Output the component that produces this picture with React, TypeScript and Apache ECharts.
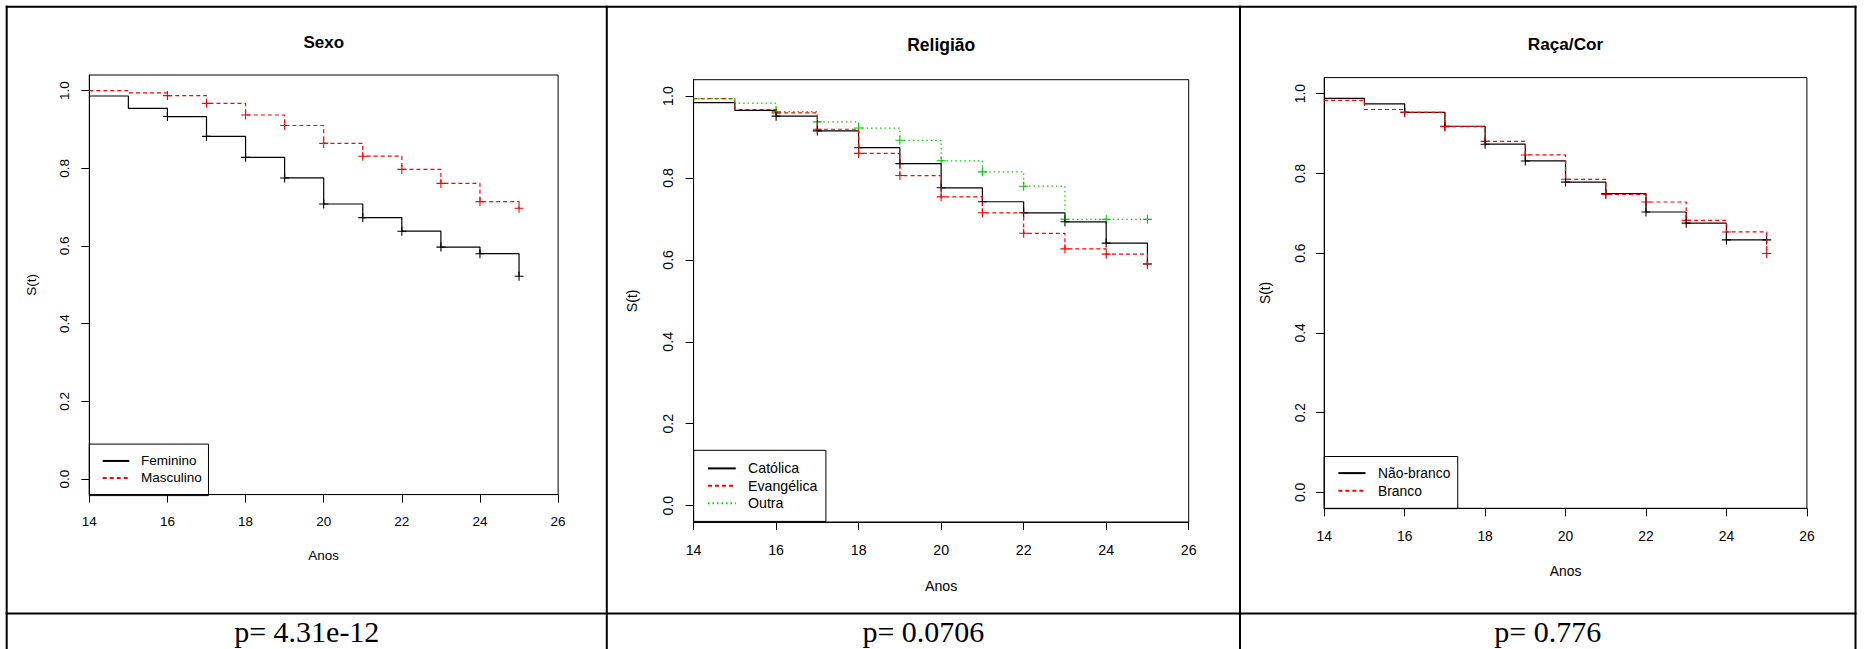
import React, { useEffect, useRef } from "react";
import * as echarts from "echarts";

// ---- data ----
const years = [14, 15, 16, 17, 18, 19, 20, 21, 22, 23, 24, 25];
const yTicks = [0, 0.2, 0.4, 0.6, 0.8, 1.0];
const censorFrom = 2; // censoring marks from year 16 on

const sexoFeminino = [0.986, 0.954, 0.933, 0.882, 0.828, 0.775, 0.708, 0.673, 0.638, 0.597, 0.58, 0.522];
const sexoMasculino = [1.0, 0.994, 0.987, 0.967, 0.937, 0.91, 0.864, 0.831, 0.797, 0.761, 0.714, 0.697];
const religCatolica = [0.984, 0.965, 0.951, 0.915, 0.874, 0.835, 0.776, 0.742, 0.715, 0.693, 0.641, 0.59];
const religEvangelica = [0.994, 0.967, 0.959, 0.919, 0.86, 0.806, 0.754, 0.715, 0.665, 0.627, 0.614, 0.59];
const religOutra = [0.994, 0.983, 0.962, 0.937, 0.922, 0.892, 0.842, 0.815, 0.78, 0.699, 0.699, 0.699];
const racaNaoBranco = [0.988, 0.974, 0.953, 0.918, 0.873, 0.831, 0.778, 0.749, 0.703, 0.675, 0.633, 0.633];
const racaBranco = [0.983, 0.96, 0.953, 0.917, 0.88, 0.846, 0.785, 0.747, 0.728, 0.682, 0.653, 0.599];

const titles = ["Sexo", "Religião", "Raça/Cor"];
const pValues = ["p= 4.31e-12", "p= 0.0706", "p= 0.776"];
const xName = "Anos";
const yName = "S(t)";

const groups = [
  [
    { name: "Feminino", values: sexoFeminino, style: "solid" },
    { name: "Masculino", values: sexoMasculino, style: "dashed" },
  ],
  [
    { name: "Católica", values: religCatolica, style: "solid" },
    { name: "Evangélica", values: religEvangelica, style: "dashed" },
    { name: "Outra", values: religOutra, style: "dotted" },
  ],
  [
    { name: "Não-branco", values: racaNaoBranco, style: "solid" },
    { name: "Branco", values: racaBranco, style: "dashed" },
  ],
];

// ---- styles / layout ----
const lineStyles: Record<string, any> = {
  solid: { color: "#000000", width: 1.2, type: "solid" },
  dashed: { color: "#FF0000", width: 1.2, type: [4, 3] },
  dotted: { color: "#00CD00", width: 1.2, type: [1.5, 3] },
};

const TEXT_SHIFT = 4; // legend text sits a little lower than its line sample

const layout = [
  { left: 89.3, top: 75.0, width: 468.8, height: 419.6, fs: 13.5, titleFs: 17, titleX: 323.7, titleY: 42.6,
    xMargin: 19.5, yMargin: 17.5, xNameGap: 54.2, yNameGap: 51.3,
    legendTop: 444.1, legendPad: [9.85, 6.7, 10.65, 12.4], itemWidth: 26.6, itemGap: 3.0, textPad: 6.7, pX: 306.75 },
  { left: 693.6, top: 79.7, width: 495.1, height: 442.3, fs: 14.2, titleFs: 17.5, titleX: 941.2, titleY: 44.7,
    xMargin: 20.8, yMargin: 18.5, xNameGap: 56.6, yNameGap: 54.7,
    legendTop: 450.3, legendPad: [11.1, 8.5, 11.2, 13.4], itemWidth: 27.8, itemGap: 3.4, textPad: 7.2, pX: 923.4 },
  { left: 1324.2, top: 77.6, width: 482.7, height: 430.7, fs: 13.85, titleFs: 17.2, titleX: 1565.5, titleY: 44.3,
    xMargin: 20.8, yMargin: 17.3, xNameGap: 55.8, yNameGap: 52.7,
    legendTop: 456.5, legendPad: [9.6, 7.4, 10.9, 13.2], itemWidth: 27.1, itemGap: 3.65, textPad: 7.5, pX: 1547.8 },
];

const SANS = "'Liberation Sans', Arial, Helvetica, sans-serif";
const SERIF = "'Liberation Serif', 'Times New Roman', Times, serif";
const PLUS = "path://M7.9,0H10.1V7.9H18V10.1H10.1V18H7.9V10.1H0V7.9H7.9Z";

function buildOption() {
  const grid: any[] = [];
  const xAxis: any[] = [];
  const yAxis: any[] = [];
  const legend: any[] = [];
  const series: any[] = [];
  const graphic: any[] = [];

  layout.forEach((p, i) => {
    grid.push({
      left: p.left, top: p.top, width: p.width, height: p.height,
      show: true, borderColor: "#000", borderWidth: 1, backgroundColor: "transparent",
      containLabel: false,
    });
    xAxis.push({
      type: "value", gridIndex: i, min: 14, max: 26, interval: 2,
      axisLine: { show: true, onZero: false, lineStyle: { color: "#000", width: 1 } },
      axisTick: { show: true, inside: false, length: 8, lineStyle: { color: "#000", width: 1 } },
      axisLabel: { show: true, color: "#000", fontSize: p.fs, fontFamily: SANS, margin: p.xMargin,
        showMinLabel: true, showMaxLabel: true },
      splitLine: { show: false },
      name: xName, nameLocation: "middle", nameGap: p.xNameGap,
      nameTextStyle: { color: "#000", fontSize: p.fs, fontFamily: SANS },
    });
    yAxis.push({
      type: "value", gridIndex: i, min: -0.04, max: 1.04,
      axisLine: { show: true, onZero: false, lineStyle: { color: "#000", width: 1 } },
      axisTick: { show: true, inside: false, length: 8, customValues: yTicks, lineStyle: { color: "#000", width: 1 } },
      axisLabel: { show: true, customValues: yTicks, rotate: 90, color: "#000", fontSize: p.fs, fontFamily: SANS,
        margin: p.yMargin, formatter: (v: number) => v.toFixed(1) },
      splitLine: { show: false },
      name: yName, nameLocation: "middle", nameRotate: 90, nameGap: p.yNameGap,
      nameTextStyle: { color: "#000", fontSize: p.fs, fontFamily: SANS },
    });
    legend.push({
      orient: "vertical", left: p.left, top: p.legendTop,
      data: groups[i].map((g) => g.name),
      itemWidth: p.itemWidth, itemHeight: p.fs, itemGap: p.itemGap,
      padding: p.legendPad,
      borderColor: "#000", borderWidth: 1, borderRadius: 0,
      backgroundColor: "transparent", selectedMode: false,
      itemStyle: { color: "transparent", borderColor: "transparent", borderWidth: 0, opacity: 0 },
      textStyle: { color: "#000", fontSize: p.fs, fontFamily: SANS, padding: [TEXT_SHIFT, 0, 0, p.textPad] },
    });
    groups[i].forEach((g) => {
      const ls = lineStyles[g.style];
      series.push({
        type: "line", name: g.name, xAxisIndex: i, yAxisIndex: i,
        step: "end", symbol: "none", showSymbol: false, silent: true,
        lineStyle: { ...ls },
        itemStyle: { color: ls.color },
        data: years.map((x, k) => [x, g.values[k]]),
      });
      series.push({
        type: "scatter", name: g.name + " (censura)", xAxisIndex: i, yAxisIndex: i,
        symbol: PLUS, symbolSize: 9, silent: true,
        itemStyle: { color: ls.color, opacity: 1 },
        data: years.slice(censorFrom).map((x, k) => [x, g.values[k + censorFrom]]),
      });
    });
    graphic.push({
      type: "text", x: p.titleX, y: p.titleY, silent: true,
      style: { text: titles[i], fill: "#000", fontSize: p.titleFs, fontWeight: "bold", fontFamily: SANS,
        align: "center", verticalAlign: "middle" },
    });
    graphic.push({
      type: "text", x: p.pX, y: 631, silent: true,
      style: { text: pValues[i], fill: "#000", fontSize: 30, fontFamily: SERIF,
        align: "center", verticalAlign: "middle" },
    });
  });

  // table borders
  const vx = [6.7, 606.8, 1240, 1855.5];
  vx.forEach((x) => {
    graphic.push({ type: "line", silent: true, shape: { x1: x, y1: 5.7, x2: x, y2: 660 },
      style: { stroke: "#000", lineWidth: 2 } });
  });
  [6.7, 613.5].forEach((y) => {
    graphic.push({ type: "line", silent: true, shape: { x1: 5.7, y1: y, x2: 1856.5, y2: y },
      style: { stroke: "#000", lineWidth: 2 } });
  });

  return {
    animation: false,
    backgroundColor: "#ffffff",
    grid, xAxis, yAxis, legend, series, graphic,
  };
}

export default function App() {
  const ref = useRef<HTMLDivElement>(null);
  useEffect(() => {
    if (!ref.current) return;
    const chart = echarts.init(ref.current, undefined, { renderer: "svg", width: 1864, height: 649 });
    chart.setOption(buildOption() as any);
    return () => chart.dispose();
  }, []);
  return (
    <div
      ref={ref}
      style={{ position: "absolute", left: 0, top: 0, width: 1864, height: 649, background: "#fff" }}
    />
  );
}
